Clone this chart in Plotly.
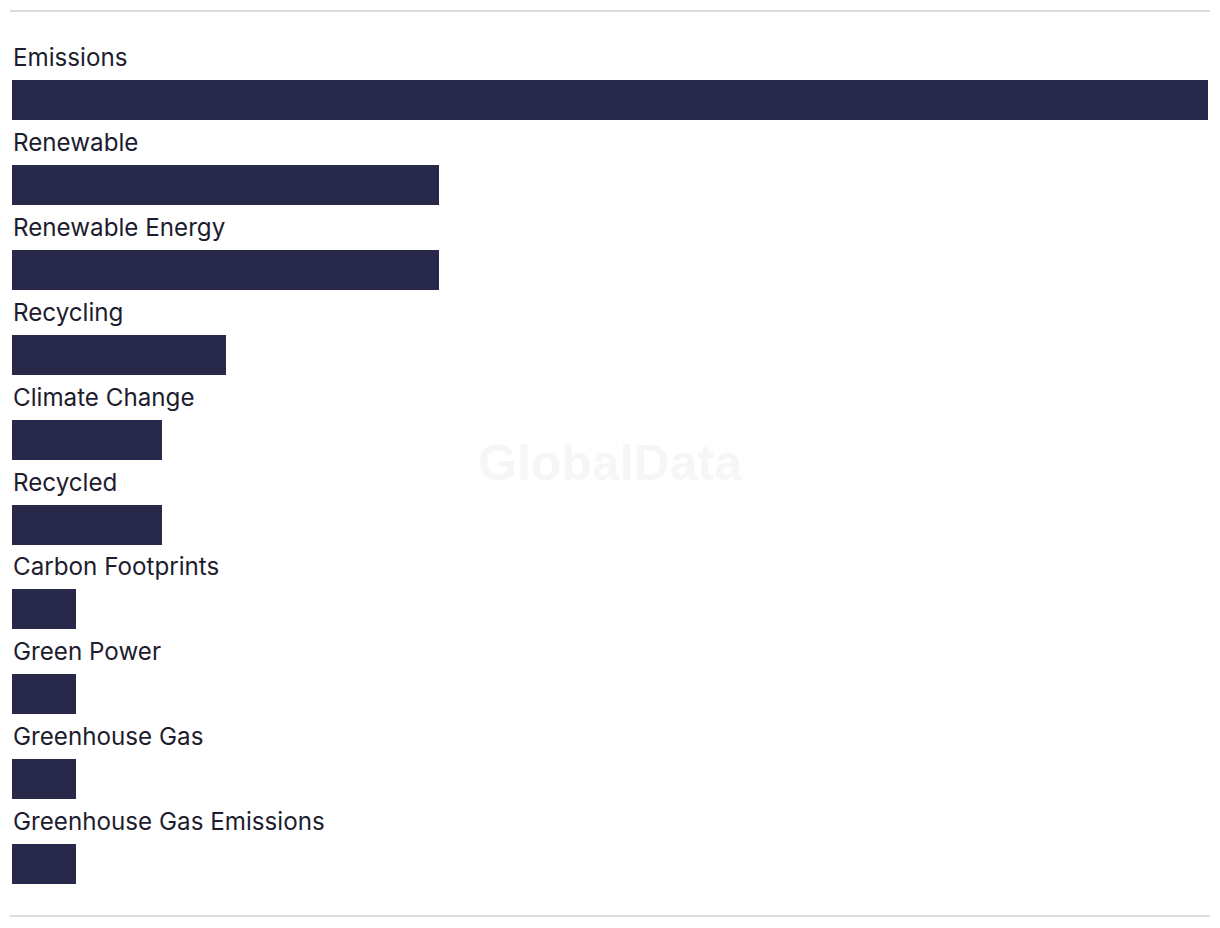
import plotly.graph_objects as go

categories = ["Emissions", "Renewable", "Renewable Energy", "Recycling", "Climate Change",
              "Recycled", "Carbon Footprints", "Green Power", "Greenhouse Gas",
              "Greenhouse Gas Emissions"]
values = [56, 20, 20, 10, 7, 7, 3, 3, 3, 3]

BAR_COLOR = "#28284a"
TEXT_COLOR = "#1d1d2f"

W, H = 1220, 928
ml, mr, mt, mb = 12, 12, 20, 28
plot_h = H - mt - mb
pitch = 84.9
top_i = (mt - 100) / pitch
bot_i = (H - mb - 100) / pitch

idx = list(range(len(categories)))

fig = go.Figure()
fig.add_trace(go.Bar(
    x=values, y=idx, orientation="h",
    marker=dict(color=BAR_COLOR, line=dict(width=0)),
    width=40 / pitch,
    hoverinfo="skip",
))

for i, c in zip(idx, categories):
    fig.add_annotation(
        x=0, y=i, xref="x", yref="y", text=c, showarrow=False,
        xanchor="left", yanchor="bottom", yshift=26, xshift=-1,
        font=dict(family="Inter, Roboto, sans-serif", size=24.2, color=TEXT_COLOR),
    )

fig.add_annotation(
    x=0.5, y=(H - mb - 463) / plot_h, xref="paper", yref="paper",
    text="<b>GlobalData</b>", showarrow=False, xanchor="center", yanchor="middle",
    font=dict(family="Liberation Sans, Arial, sans-serif", size=50, color="#f6f6f6"),
)

plot_w = W - ml - mr
def px_x(p):
    return (p - ml) / plot_w
def px_y(p):
    return (H - mb - p) / plot_h

for yy in (11, 916):
    fig.add_shape(type="line", xref="paper", yref="paper",
                  x0=px_x(10), x1=px_x(1210), y0=px_y(yy), y1=px_y(yy),
                  line=dict(color="#dcdcdc", width=2), layer="below")

fig.update_layout(
    width=W, height=H,
    margin=dict(l=ml, r=mr, t=mt, b=mb),
    paper_bgcolor="white", plot_bgcolor="white",
    showlegend=False,
    bargap=0,
    xaxis=dict(range=[0, 56], visible=False, fixedrange=True),
    yaxis=dict(range=[bot_i, top_i], visible=False, fixedrange=True),
)

fig.write_html("out.html", config={"displayModeBar": False})
